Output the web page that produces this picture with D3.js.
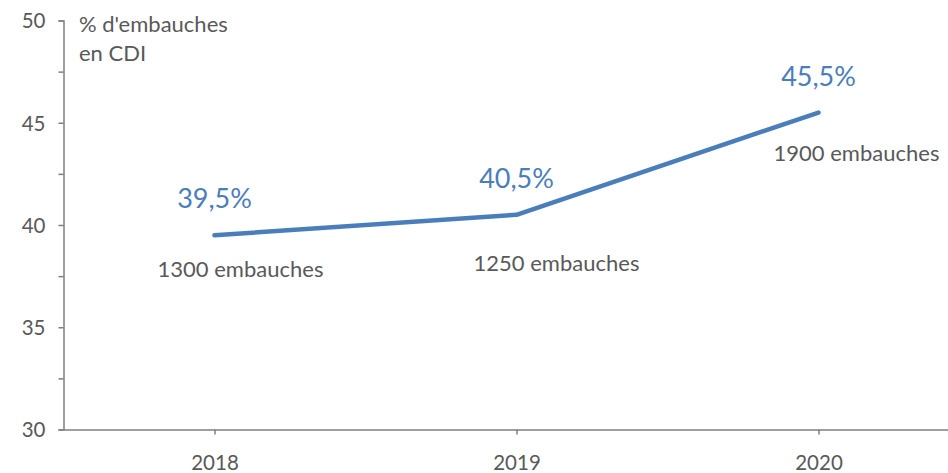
<!DOCTYPE html>
<html><head><meta charset="utf-8">
<script src="https://cdn.jsdelivr.net/npm/d3@7"></script>
<style>body{margin:0;background:#fff}svg{display:block}text{font-family:Lato,"Open Sans",sans-serif}</style>
</head><body>
<svg id="c" width="948" height="473"></svg>
<script>
const years = ["2018", "2019", "2020"];
const cdiShare = [39.5, 40.5, 45.5];
const hires = [1300, 1250, 1900];
const pctLabels = ["39,5%", "40,5%", "45,5%"];
const hireLabels = ["1300 embauches", "1250 embauches", "1900 embauches"];
const yTicks = [30, 35, 40, 45, 50];
const yMinorTicks = [32.5, 37.5, 42.5, 47.5];
const yTitle = ["% d'embauches", "en CDI"];

const svg = d3.select("#c");
const x = d3.scalePoint().domain(years).range([63.5, 969.5]).padding(0.5);
const y = d3.scaleLinear().domain([30, 50]).range([429.5, 20.5]);
const axisCol = "#7f7f7f", textCol = "#595959", lineCol = "#4a7ebb";

// y axis
const ya = svg.append("g").attr("transform", "translate(63.5,0)")
  .call(d3.axisLeft(y).tickValues(yTicks).tickSize(5).tickPadding(13).tickFormat(d3.format("d")));
const ym = svg.append("g").attr("transform", "translate(63.5,0)")
  .call(d3.axisLeft(y).tickValues(yMinorTicks).tickSize(5).tickFormat(""));
ym.select(".domain").remove();
// x axis
const xa = svg.append("g").attr("transform", "translate(0,429.5)")
  .call(d3.axisBottom(x).tickSize(5).tickPadding(21).tickSizeOuter(0));
[ya, ym, xa].forEach(g => {
  g.selectAll("path,line").attr("stroke", axisCol).attr("stroke-width", 1.5);
  g.selectAll("text").attr("fill", textCol).style("font-size", "20.5px").style("font-family", "Lato, 'Open Sans', sans-serif");
});
ya.selectAll("text").attr("dy", "0.36em");
xa.selectAll("text").attr("dy", "0.72em");

// line
const pts = years.map((yr, i) => ({yr, v: cdiShare[i], h: hires[i], pl: pctLabels[i], hl: hireLabels[i]}));
svg.append("path").datum(pts)
  .attr("fill", "none").attr("stroke", lineCol).attr("stroke-width", 4.5)
  .attr("stroke-linecap", "round").attr("stroke-linejoin", "round")
  .attr("d", d3.line().x(d => x(d.yr)).y(d => y(d.v)));

// percentage labels
svg.selectAll(".pl").data(pts).enter().append("text")
  .attr("x", d => x(d.yr)).attr("y", d => y(d.v) - 27)
  .attr("text-anchor", "middle").attr("fill", lineCol).style("font-size", "27px")
  .text(d => d.pl);

// hires labels
const hOff = [[26, 42], [40, 56], [38, 48]];
svg.selectAll(".hl").data(pts).enter().append("text")
  .attr("x", (d, i) => x(d.yr) + hOff[i][0]).attr("y", (d, i) => y(d.v) + hOff[i][1])
  .attr("text-anchor", "middle").attr("fill", textCol).style("font-size", "22px")
  .text(d => d.hl);

// y title
svg.append("text").attr("x", 79).attr("y", 32).attr("fill", textCol).style("font-size", "22px")
  .selectAll("tspan").data(yTitle).enter().append("tspan")
  .attr("x", 79).attr("dy", (d, i) => i ? 29 : 0).text(d => d);
</script>
</body></html>
